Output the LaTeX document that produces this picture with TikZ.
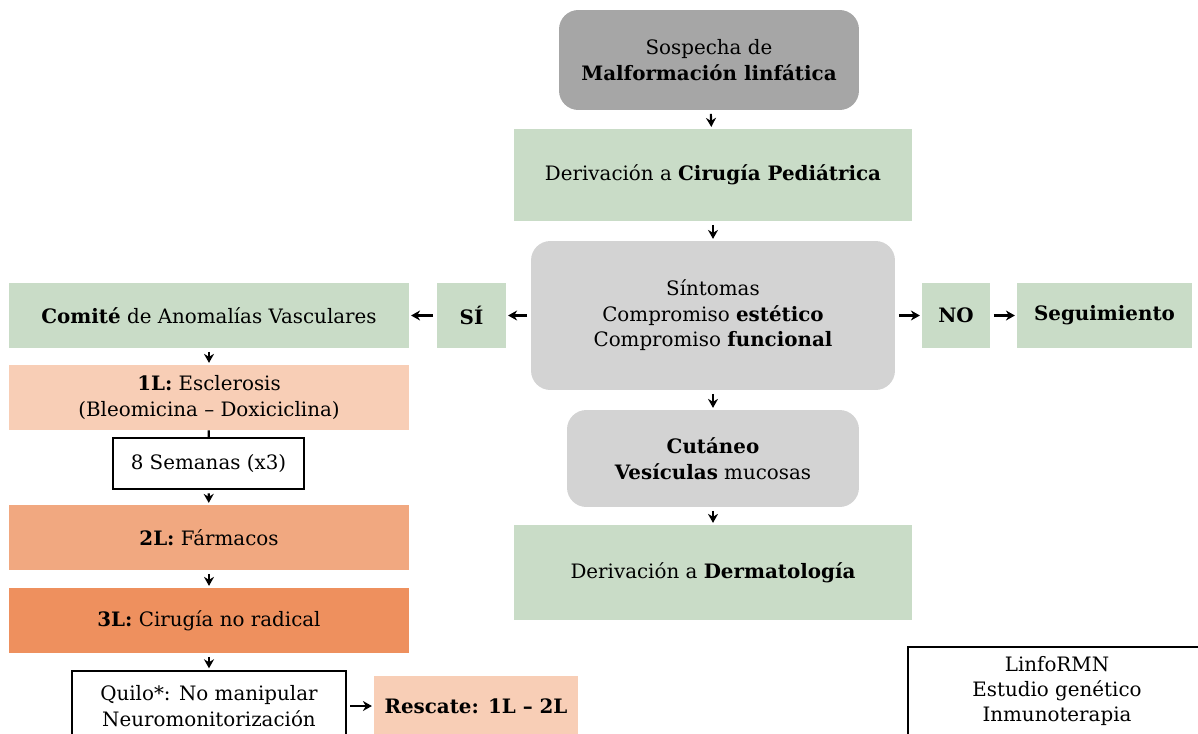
\documentclass[tikz,border=0pt]{standalone}
\usepackage{fontspec}
\setmainfont{DejaVu Serif}
\usetikzlibrary{arrows.meta,positioning}
\definecolor{darkgrey}{HTML}{A6A6A6}
\definecolor{lightgrey}{HTML}{D3D3D3}
\definecolor{sage}{HTML}{C9DCC7}
\definecolor{peachA}{HTML}{F8CEB6}
\definecolor{peachB}{HTML}{F1A880}
\definecolor{peachC}{HTML}{EE905E}

\begin{document}
\begin{tikzpicture}[x=0.02cm,y=-0.02cm,
  font=\fontsize{11.3}{14.5}\selectfont,
  box/.style={draw=none,align=center,inner sep=2pt},
  greybox/.style={box,fill=lightgrey,rounded corners=11pt},
  greenbox/.style={box,fill=sage},
  whitebox/.style={box,draw=black,fill=white,line width=1.1pt},
  arr/.style={-{Stealth[length=1.8mm,width=2mm]},line width=1.2pt,shorten <=2pt,shorten >=1pt}]
  \useasboundingbox (0,0) rectangle (1198,734);
  \clip (0,0) rectangle (1198,734);
  % central column
  \node[greybox,fill=darkgrey,minimum width=6cm,minimum height=2cm] (sosp) at (709,60) {Sospecha de\\\textbf{Malformación linfática}};
  \node[greenbox,minimum width=7.96cm,minimum height=1.84cm] (ciru) at (713,175) {Derivación a \textbf{Cirugía Pediátrica}};
  \node[greybox,minimum width=7.28cm,minimum height=2.98cm] (sint) at (713,315.5) {Síntomas\\Compromiso \textbf{estético}\\Compromiso \textbf{funcional}};
  \node[greybox,minimum width=5.84cm,minimum height=1.94cm] (cuta) at (713,458.5) {\textbf{Cutáneo}\\\textbf{Vesículas} mucosas};
  \node[greenbox,minimum width=7.96cm,minimum height=1.9cm] (derm) at (713,572.5) {Derivación a \textbf{Dermatología}};
  % yes / no branches
  \node[greenbox,minimum width=1.38cm,minimum height=1.3cm] (si) at (471.5,315.5) {\textbf{SÍ}};
  \node[greenbox,minimum width=8cm,minimum height=1.3cm] (comi) at (209,315.5) {\textbf{Comité} de Anomalías Vasculares};
  \node[greenbox,minimum width=1.36cm,minimum height=1.3cm] (no) at (956,315.5) {\textbf{NO}};
  \node[greenbox,minimum width=3.5cm,minimum height=1.3cm] (segu) at (1104.5,315.5) {\textbf{Seguimiento}};
  % treatment lines
  \node[box,fill=peachA,minimum width=8cm,minimum height=1.3cm] (l1) at (209,397.5) {\textbf{1L:} Esclerosis\\(Bleomicina -- Doxiciclina)};
  \node[whitebox,minimum width=3.82cm,minimum height=1.02cm] (sem) at (208.5,463.5) {8 Semanas (x3)};
  \node[box,fill=peachB,minimum width=8cm,minimum height=1.3cm] (l2) at (209,537.5) {\textbf{2L:} Fármacos};
  \node[box,fill=peachC,minimum width=8cm,minimum height=1.3cm] (l3) at (209,620.5) {\textbf{3L:} Cirugía no radical};
  \node[whitebox,minimum width=5.48cm,minimum height=1.4cm] (quil) at (209,706) {Quilo*: No manipular\\Neuromonitorización};
  \node[box,fill=peachA,minimum width=4.08cm,minimum height=1.2cm] (resc) at (476,706) {\textbf{Rescate: 1L -- 2L}};
  \node[whitebox,minimum width=5.96cm,minimum height=1.76cm] (extra) at (1057,691) {LinfoRMN\\Estudio genético\\Inmunoterapia};
  % connectors
  \draw[arr] (sosp) -- (ciru);
  \draw[arr] (ciru) -- (sint);
  \draw[arr] (sint) -- (cuta);
  \draw[arr] (cuta) -- (derm);
  \draw[arr] (sint) -- (si);
  \draw[arr] (si) -- (comi);
  \draw[arr] (sint) -- (no);
  \draw[arr] (no) -- (segu);
  \draw[arr] (comi) -- (l1);
  \draw[line width=1.2pt] (l1) -- (sem);
  \draw[arr] (sem) -- (l2);
  \draw[arr] (l2) -- (l3);
  \draw[arr] (l3) -- (quil);
  \draw[arr] (quil) -- (resc);
\end{tikzpicture}
\end{document}
